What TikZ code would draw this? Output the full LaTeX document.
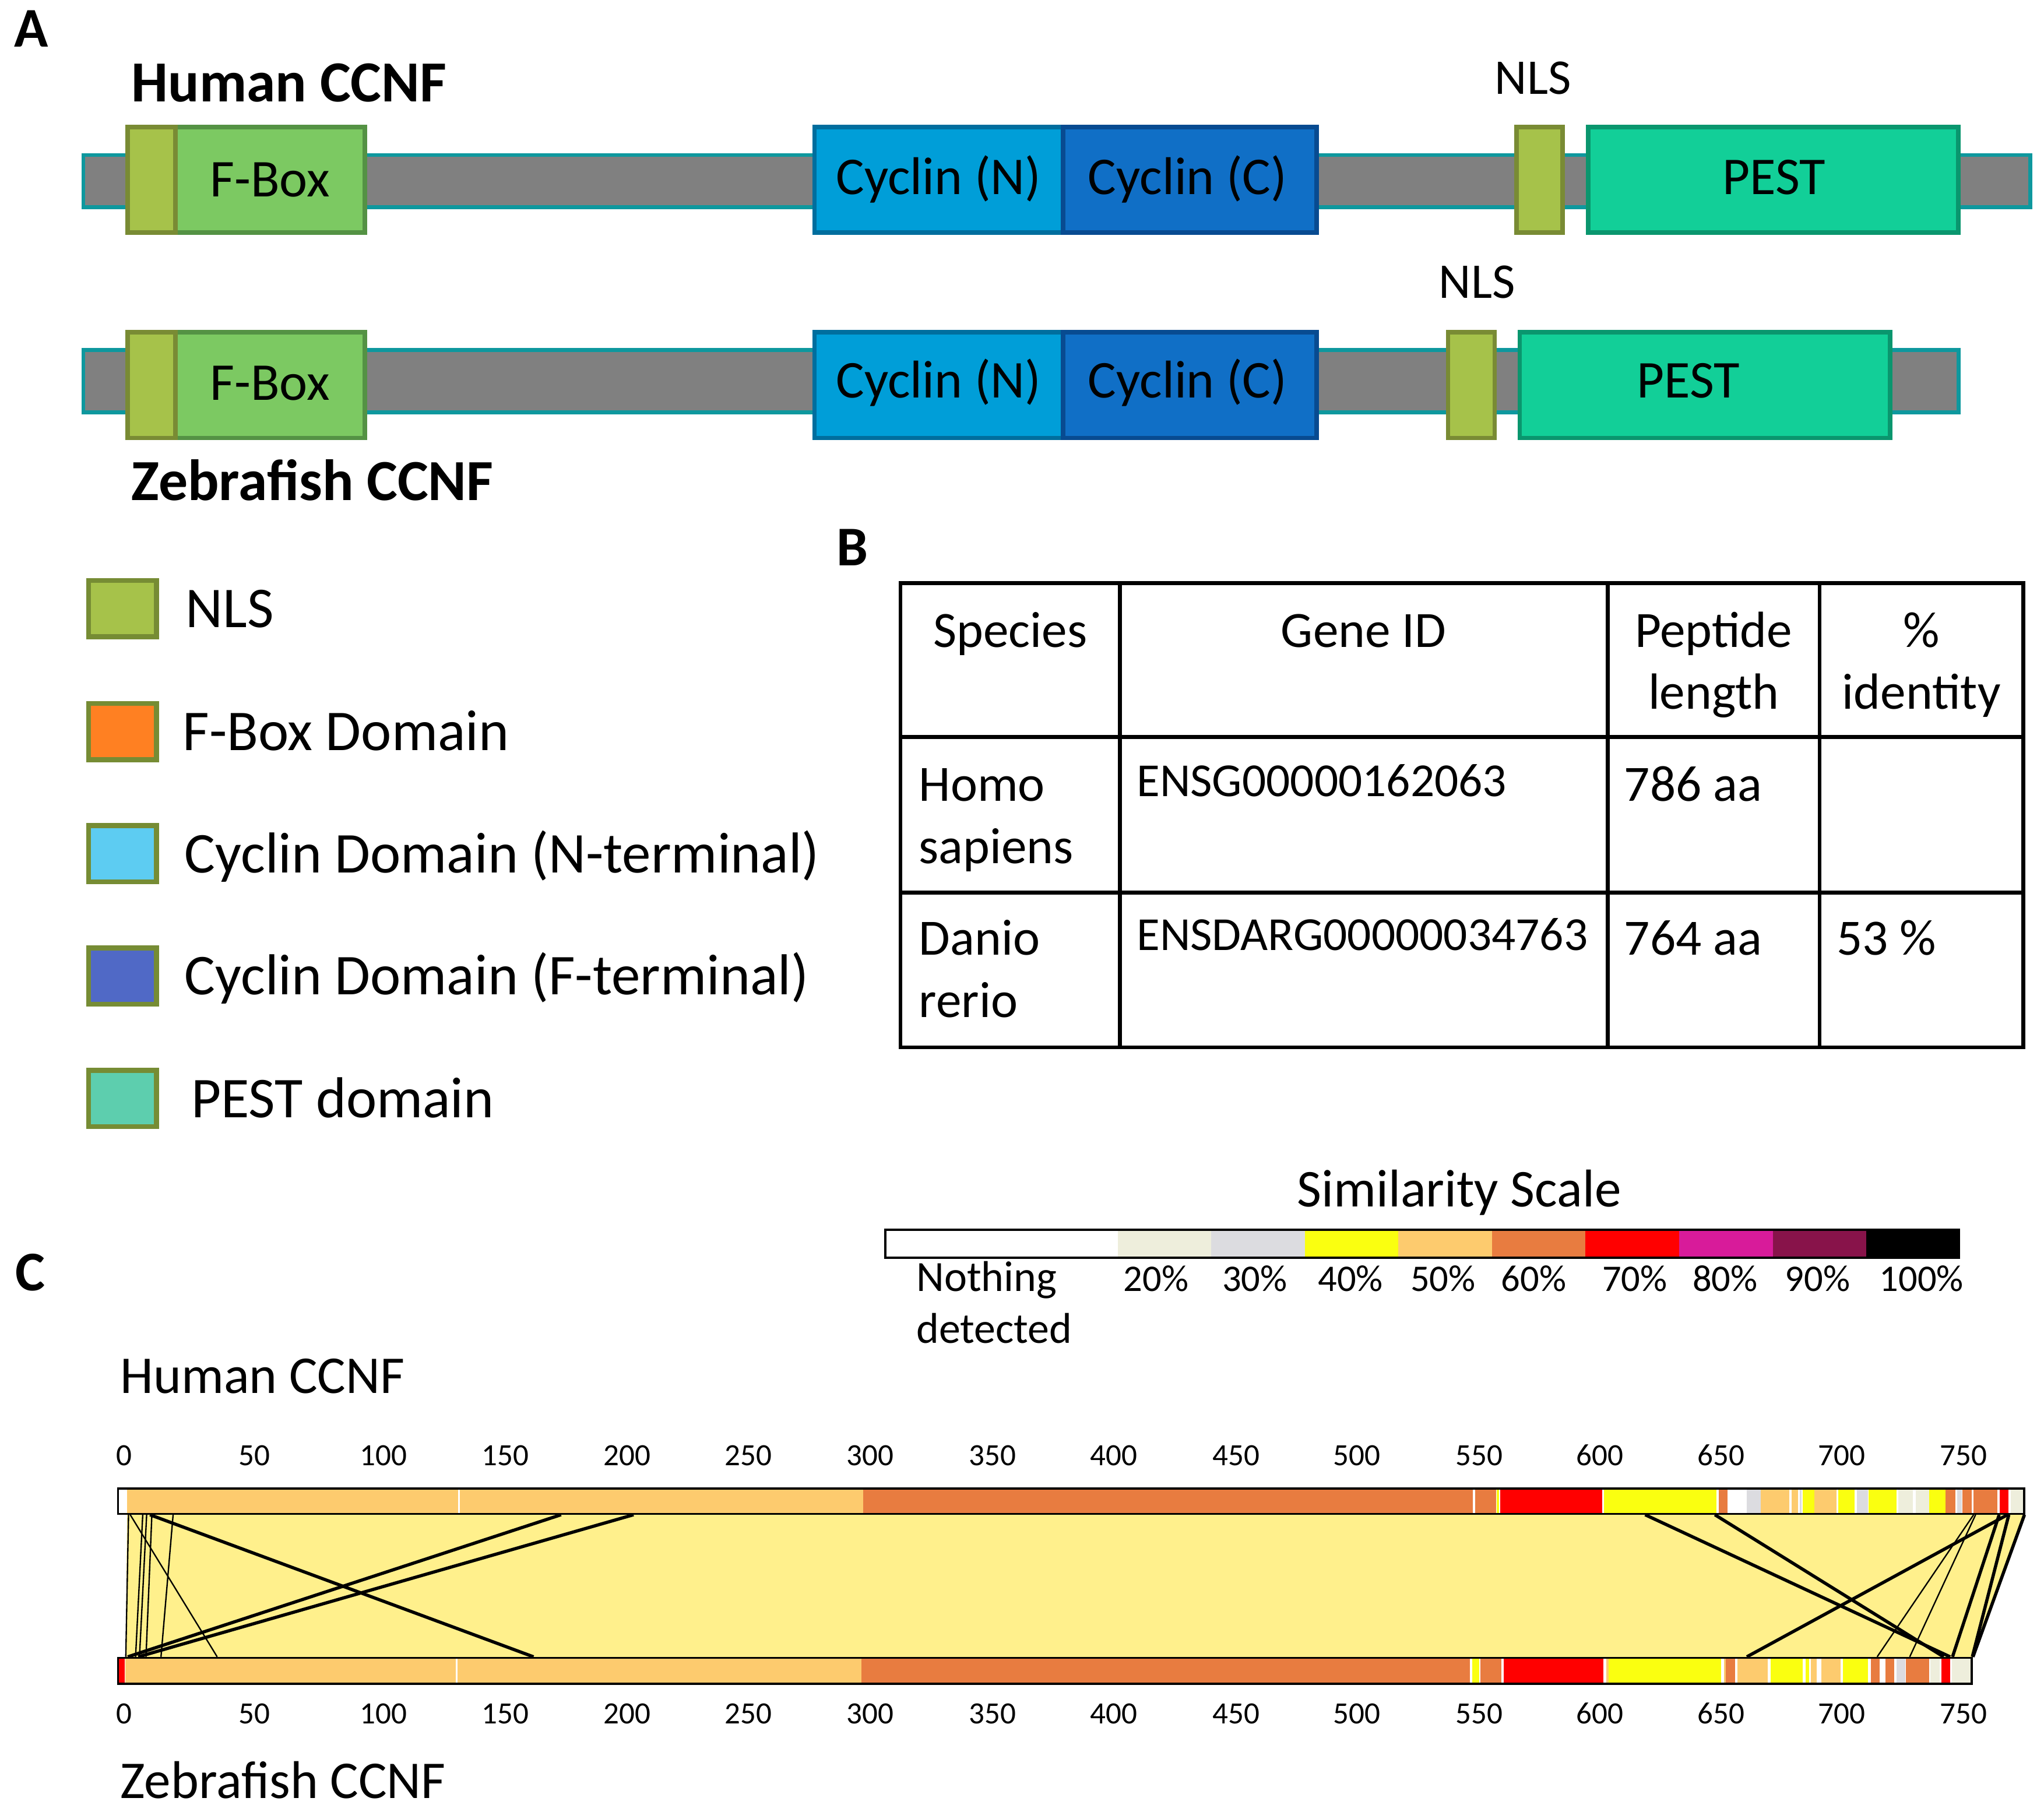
\documentclass[tikz,border=0pt]{standalone}
\usepackage{fontspec}
\setmainfont{Carlito}
\usetikzlibrary{positioning}

\definecolor{barGray}{RGB}{128,128,128}
\definecolor{barTeal}{RGB}{14,152,158}
\definecolor{nlsFill}{RGB}{166,194,74}
\definecolor{nlsLine}{RGB}{121,139,52}
\definecolor{fboxFill}{RGB}{124,201,98}
\definecolor{fboxLine}{RGB}{84,146,68}
\definecolor{cycNFill}{RGB}{0,158,216}
\definecolor{cycNLine}{RGB}{0,110,158}
\definecolor{cycCFill}{RGB}{16,111,198}
\definecolor{cycCLine}{RGB}{8,75,145}
\definecolor{pestFill}{RGB}{18,207,152}
\definecolor{pestLine}{RGB}{10,150,110}
\definecolor{legLine}{RGB}{118,140,52}
\definecolor{legOrange}{RGB}{255,128,34}
\definecolor{legCyan}{RGB}{93,204,242}
\definecolor{legBlue}{RGB}{80,105,198}
\definecolor{legPest}{RGB}{93,206,174}
\definecolor{simIvory}{RGB}{238,238,220}
\definecolor{simGray}{RGB}{220,220,224}
\definecolor{simYellow}{RGB}{250,255,16}
\definecolor{simPeach}{RGB}{253,203,110}
\definecolor{simOrange}{RGB}{232,124,64}
\definecolor{simRed}{RGB}{255,0,0}
\definecolor{simMagenta}{RGB}{216,27,154}
\definecolor{simPlum}{RGB}{136,19,74}
\definecolor{mapYellow}{RGB}{255,240,140}

\begin{document}
\begin{tikzpicture}[
    x=0.2mm, y=-0.2mm,
    every node/.style={inner sep=0pt, outer sep=0pt},
    bar/.style={fill=barGray, draw=barTeal, line width=1.7pt},
    nlsbox/.style={fill=nlsFill, draw=nlsLine, line width=2pt},
    fbox/.style={fill=fboxFill, draw=fboxLine, line width=2pt},
    cycn/.style={fill=cycNFill, draw=cycNLine, line width=2pt},
    cycc/.style={fill=cycCFill, draw=cycCLine, line width=2pt},
    pest/.style={fill=pestFill, draw=pestLine, line width=2pt},
    legbox/.style={draw=legLine, line width=2.2pt},
    panel/.style={font=\bfseries\fontsize{24.5}{29}\selectfont, anchor=base west},
    hdrtext/.style={font=\bfseries\fontsize{25.4}{30}\selectfont, anchor=base west},
    domtext/.style={font=\fontsize{23.2}{28}\selectfont, anchor=base},
    nlstext/.style={font=\fontsize{21.8}{26}\selectfont, anchor=base},
    legtext/.style={font=\fontsize{25.2}{30}\selectfont, anchor=base west},
    cell/.style={font=\fontsize{22.2}{27}\selectfont, anchor=base west},
    headcell/.style={font=\fontsize{22.2}{27}\selectfont, anchor=base},
    geneid/.style={font=\fontsize{20.7}{25}\selectfont, anchor=base west},
    tblline/.style={line width=1.7pt},
    simtitle/.style={font=\fontsize{23.2}{28}\selectfont, anchor=base},
    pcttext/.style={font=\fontsize{16.4}{20}\selectfont, anchor=base},
    ndtext/.style={font=\fontsize{18.8}{23}\selectfont, anchor=base west},
    seqname/.style={font=\fontsize{23.2}{28}\selectfont, anchor=base west},
    ticktext/.style={font=\fontsize{13.5}{16}\selectfont, anchor=base},
    seqbar/.style={draw=black, line width=0.9pt},
    thickmap/.style={line width=1.4pt},
    thinmap/.style={line width=0.6pt}
]
\useasboundingbox (0,0) rectangle (1568,1395);

% Panel A: domain maps
\node[panel] (lblA) at (11,36) {A};
\node[hdrtext] (humA) at (101,78) {Human CCNF};

\draw[bar] (64,119) rectangle (1557.5,159);
\draw[fbox] (134.5,97.5) rectangle (280,178.5);
\draw[nlsbox] (97.8,97.5) rectangle (134.5,178.5);
\draw[cycn] (624.8,97.5) rectangle (815.5,178.5);
\draw[cycc] (815.5,97.5) rectangle (1010,178.5);
\draw[nlsbox] (1163.4,97.5) rectangle (1198.7,178.5);
\draw[pest] (1218.4,97.5) rectangle (1502.4,178.5);

\node[domtext] (fbH) at (207,151) {F-Box};
\node[domtext] (cnH) at (720,149) {Cyclin (N)};
\node[domtext] (ccH) at (911,149) {Cyclin (C)};
\node[domtext] (peH) at (1361,149) {PEST};
\node[nlstext] (nlsH) at (1176,72) {NLS};

\draw[bar] (64,268.5) rectangle (1502.5,316.3);
\draw[fbox] (134.5,255) rectangle (280,336);
\draw[nlsbox] (97.8,255) rectangle (134.5,336);
\draw[cycn] (624.8,255) rectangle (815.5,336);
\draw[cycc] (815.5,255) rectangle (1010,336);
\draw[nlsbox] (1110.8,255) rectangle (1146.6,336);
\draw[pest] (1165.8,255) rectangle (1450,336);

\node[domtext] (fbZ) at (207,307) {F-Box};
\node[domtext] (cnZ) at (720,305) {Cyclin (N)};
\node[domtext] (ccZ) at (911,305) {Cyclin (C)};
\node[domtext] (peZ) at (1295,305) {PEST};
\node[nlstext] (nlsZ) at (1133,228.5) {NLS};
\node[hdrtext] (zebA) at (101,384) {Zebrafish CCNF};

% Legend
\foreach \yc/\col/\tx/\txt [count=\i] in {466.9/nlsFill/142.4/NLS,
    561.2/legOrange/140.3/F-Box Domain,
    654.9/legCyan/141.6/Cyclin Domain (N-terminal),
    748.7/legBlue/141.6/Cyclin Domain (F-terminal),
    842.7/legPest/146.7/PEST domain}{
  \draw[legbox, fill=\col] (68,\yc-21.6) rectangle (120,\yc+21.6);
  \node[legtext] (leg\i) at (\tx,\yc+14.5) {\txt};
}

% Panel B: table
\node[panel] (lblB) at (641.6,433.8) {B};
\draw[tblline] (690.7,447.4) rectangle (1552,803.4);
\foreach \x in {859,1233.2,1395.8}
  \draw[tblline] (\x,447.4) -- (\x,803.4);
\foreach \y in {565.5,684.6}
  \draw[tblline] (690.7,\y) -- (1552,\y);

\node[headcell] (hSpec) at (775,496.7) {Species};
\node[headcell] (hGene) at (1046,496.7) {Gene ID};
\node[headcell] (hPep) at (1314.5,496.7) {Peptide};
\node[headcell] (hLen) at (1314.5,544) {length};
\node[headcell] (hPct) at (1474,496.7) {\%};
\node[headcell] (hIdt) at (1474,544) {identity};

\node[cell] (homo) at (705,614.7) {Homo};
\node[cell] (sapi) at (705,662.2) {sapiens};
\node[geneid] (gHum) at (872,611) {ENSG00000162063};
\node[cell] (lHum) at (1246,614.7) {786 aa};

\node[cell] (dani) at (705,732.8) {Danio};
\node[cell] (reri) at (705,780.3) {rerio};
\node[geneid] (gZeb) at (872,729) {ENSDARG00000034763};
\node[cell] (lZeb) at (1246,732.8) {764 aa};
\node[cell] (iZeb) at (1409,732.8) {53 \%};

% Panel C: similarity scale
\node[panel] (lblC) at (12,990) {C};
\node[simtitle] (simT) at (1119.4,925.8) {Similarity Scale};
\fill[white] (678.3,943.5) rectangle (857.4,964.8);
\foreach \col [count=\i from 0] in {simIvory,simGray,simYellow,simPeach,simOrange,simRed,simMagenta,simPlum,black}
  \fill[\col] (857.4+71.78*\i,943.5) rectangle (929.18+71.78*\i,964.8);
\draw[line width=1pt] (679,943.5) rectangle (1502.7,964.8);
\foreach \p/\x in {20/886.8,30/962.5,40/1036,50/1107,60/1176.5,70/1254,80/1323.4,90/1394.3,100/1474}
  \node[pcttext] (pct\p) at (\x,990.5) {\p\%};
\node[ndtext] (nd1) at (703,990.7) {Nothing};
\node[ndtext] (nd2) at (703,1030.5) {detected};

% Panel C: alignment
\node[seqname] (humC) at (92.4,1068.7) {Human CCNF};
\node[seqname] (zebC) at (92.4,1379.5) {Zebrafish CCNF};
\foreach \v/\x in {0/95,50/195,100/294,150/387.6,200/481,250/574,300/667.4,350/761.3,400/854.4,450/948.2,500/1040.9,550/1134.7,600/1227.4,650/1320.2,700/1412.9,750/1506.2}{
  \node[ticktext] (tt\v) at (\x,1124.4) {\v};
  \node[ticktext] (tb\v) at (\x,1322.2) {\v};
}

\fill[mapYellow] (97.5,1162) -- (1553,1162) -- (1513.5,1271) -- (96.5,1271) -- cycle;

% mapping lines
\draw[thickmap] (115,1162) -- (409.3,1271);
\draw[thickmap] (430.4,1162) -- (98,1271);
\draw[thickmap] (486,1162) -- (106,1271);
\draw[thinmap] (98.6,1162) -- (96.5,1271);
\draw[thinmap] (99.9,1162) -- (166.6,1271);
\draw[thinmap] (109.5,1162) -- (104,1271);
\draw[thinmap] (112.5,1162) -- (107,1271);
\draw[thinmap] (116.5,1162) -- (112,1271);
\draw[thinmap] (132.8,1162) -- (123.5,1271);
\draw[thickmap] (1262,1162) -- (1496,1271);
\draw[thickmap] (1315.5,1162) -- (1491,1271);
\draw[thickmap] (1540,1162) -- (1340,1271);
\draw[thinmap] (1514,1162) -- (1440,1271);
\draw[thinmap] (1515.5,1162) -- (1465,1271);
\draw[thickmap] (1533.6,1162) -- (1497.8,1271);
\draw[thickmap] (1541,1162) -- (1513,1271);
\draw[thickmap] (1553,1162) -- (1513.5,1271);

% human bar
\fill[white] (90.6,1142) rectangle (1552.8,1161.4);
\foreach \a/\b/\c in {97.6/351.6/simPeach, 352.6/662.2/simPeach, 662.2/1130/simOrange,
    1131.5/1147.6/simOrange, 1148.3/1150/simYellow, 1150.7/1228.9/simRed,
    1230.5/1316.7/simYellow, 1318.3/1325.4/simOrange, 1340/1350.9/simGray,
    1350.9/1372.8/simPeach, 1374.2/1379.4/simPeach, 1380.5/1382/simGray,
    1382.8/1392/simYellow, 1392/1408.6/simPeach, 1410/1422.7/simYellow,
    1424.4/1433/simGray, 1433.4/1454.7/simYellow, 1456.2/1467.3/simIvory,
    1469.5/1480/simIvory, 1480/1492.5/simYellow, 1492.5/1499.8/simOrange,
    1501.3/1505/simGray, 1505.3/1512.4/simOrange, 1514.1/1532.2/simOrange,
    1534.2/1540.8/simRed, 1542.6/1552.8/simIvory}
  \fill[\c] (\a,1142) rectangle (\b,1161.4);
\draw[seqbar] (90.6,1142) rectangle (1552.8,1161.4);

% zebrafish bar
\fill[white] (90.6,1271.8) rectangle (1512.6,1291.6);
\foreach \a/\b/\c in {90.9/95.8/simRed, 96/349.6/simPeach, 350.8/660.7/simPeach,
    660.7/1127.5/simOrange, 1129.2/1134.7/simYellow, 1135.7/1151.7/simOrange,
    1153.5/1230/simRed, 1232.3/1234.1/simPeach, 1234.1/1320.1/simYellow,
    1322.4/1324/simPeach, 1324/1331/simOrange, 1332.7/1355.9/simPeach,
    1358.2/1382.8/simYellow, 1385.1/1388/simYellow, 1389/1393.8/simPeach,
    1397.2/1412/simPeach, 1413.6/1433/simYellow, 1435.3/1442.1/simOrange,
    1446.2/1453.1/simOrange, 1454.7/1461.5/simGray, 1462.2/1479.8/simOrange,
    1480.9/1487.8/simIvory, 1489.4/1495.8/simRed, 1497.3/1512.6/simIvory}
  \fill[\c] (\a,1271.8) rectangle (\b,1291.6);
\draw[seqbar] (90.6,1271.8) rectangle (1512.6,1291.6);

\end{tikzpicture}
\end{document}
